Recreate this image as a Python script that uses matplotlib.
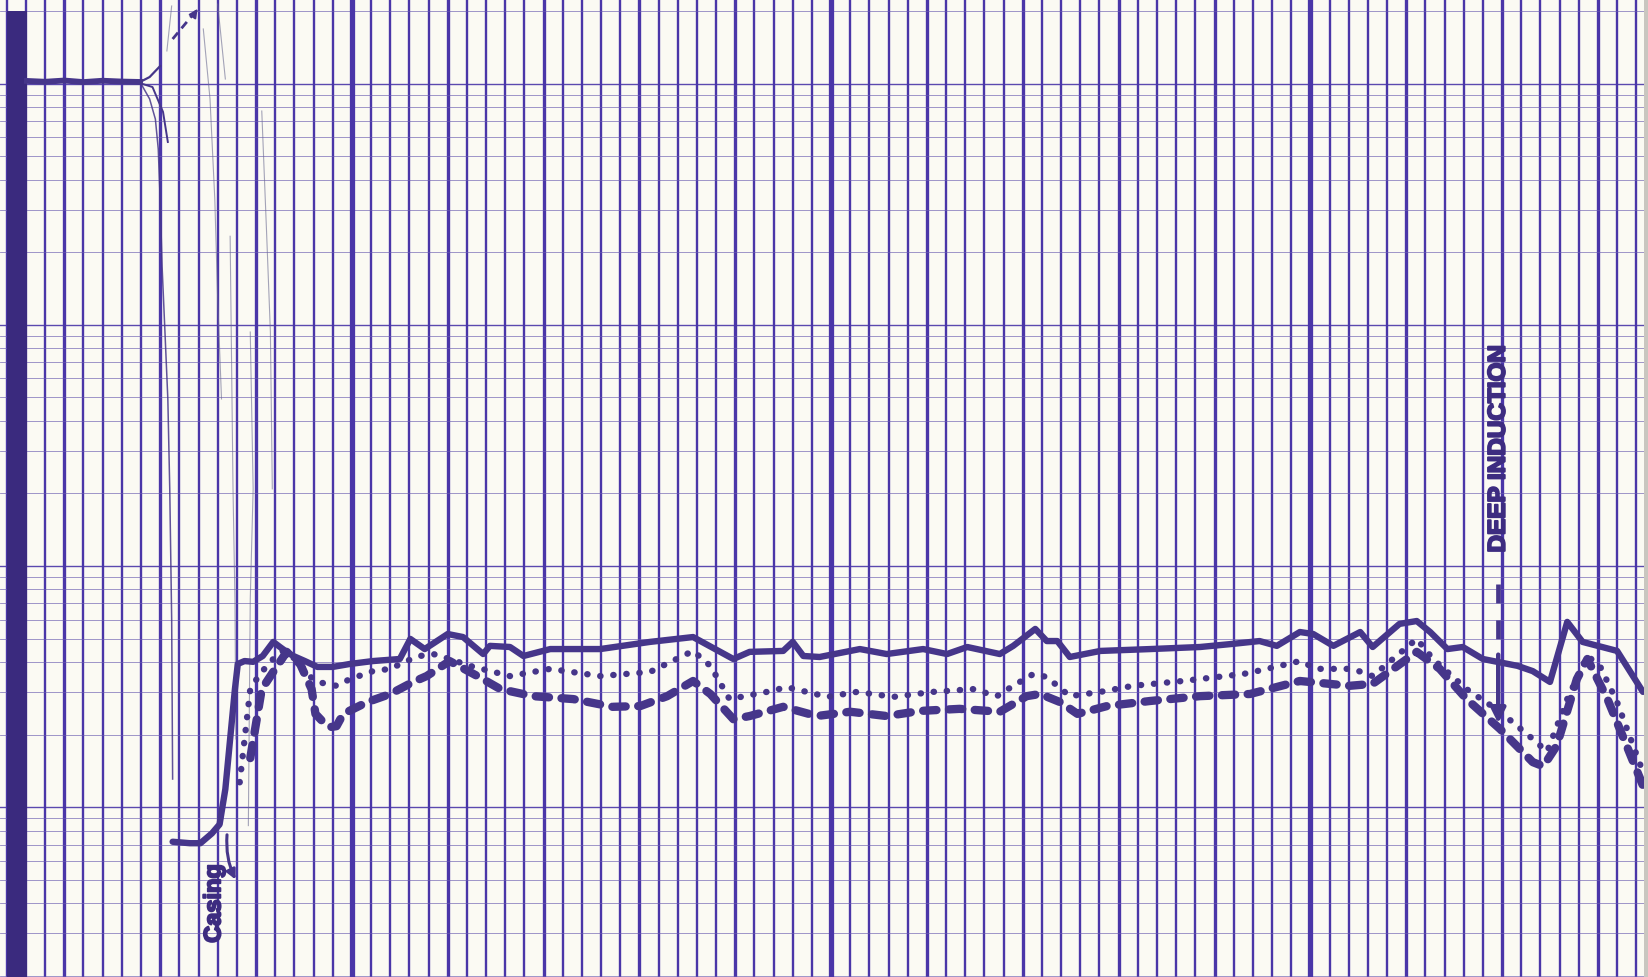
import matplotlib
matplotlib.use("Agg")
import matplotlib.pyplot as plt
import matplotlib.patheffects as pe
from matplotlib.ticker import MultipleLocator, LogLocator, NullFormatter
import numpy as np

# colours of the scanned log paper
paper = "#fbfaf3"
grid_col = "#4a36a8"
ink = "#46368a"

solid_depth = [31.3, 33.1, 34.2, 35.4, 36.2, 36.8, 37.3, 37.8, 38.1, 38.8, 39.7, 40.7, 41.8, 42.5,
               43.2, 43.9, 45.1, 46.4, 48.0, 49.8, 52.2, 55.0, 56.1, 57.6, 60.0, 61.6, 63.7, 64.4,
               66.5, 67.9, 70.7, 75.9, 81.1, 85.6, 89.8, 91.5, 95.0, 96.0, 97.1, 98.8, 103.0, 105.8,
               109.6, 112.1, 114.2, 117.6, 119.0, 121.3, 122.5, 123.6, 124.9, 128.1, 133.3, 138.5,
               141.9, 144.7, 146.5, 148.9, 150.3, 152.4, 155.2, 156.5, 159.3, 161.1, 162.5, 164.3,
               165.9, 168.0, 171.6, 173.2, 175.0, 176.8, 178.4, 182.0, 184.7]
solid_res = [0.72, 0.71, 0.71, 0.78, 0.85, 1.19, 1.92, 3.09, 3.93, 4.04, 4.01, 4.24, 4.85, 4.62,
             4.41, 4.24, 4.04, 3.82, 3.82, 3.93, 4.04, 4.12, 4.99, 4.53, 5.23, 5.08, 4.32, 4.67,
             4.62, 4.24, 4.53, 4.53, 4.85, 5.08, 4.12, 4.41, 4.45, 4.85, 4.24, 4.20, 4.53, 4.32,
             4.53, 4.32, 4.62, 4.32, 4.67, 5.49, 4.89, 4.89, 4.20, 4.45, 4.53, 4.62,
             4.76, 4.89, 4.67, 5.33, 5.23, 4.67, 5.33, 4.62, 5.76, 5.92, 5.33, 4.53,
             4.62, 4.12, 3.86, 3.67, 3.31, 5.87, 4.85, 4.45, 3.01]

dotted_depth = [38.3, 39.4, 40.4, 41.8, 42.8, 44.1, 45.7, 46.4, 48.4, 49.8, 52.2, 54.0, 55.7, 57.1,
                58.5, 60.2, 62.3, 66.5, 70.7, 75.9, 81.1, 85.6, 87.4, 89.4, 93.3, 95.4, 99.6, 102.7,
                106.5, 110.6, 114.8, 117.3, 119.0, 121.1, 122.5, 124.9, 128.1, 131.5, 136.7, 143.0,
                145.5, 148.9, 150.7, 154.4, 156.5, 161.1, 162.8, 166.3, 169.8, 173.2, 174.7, 176.8,
                178.9, 180.2, 182.0, 184.7]
dotted_res = [1.27, 3.09, 3.57, 4.12, 4.45, 4.12, 3.47, 3.31, 3.19, 3.40, 3.67, 3.75, 4.04, 4.24,
              4.32, 4.12, 3.86, 3.50, 3.75, 3.50, 3.64, 4.45, 3.86, 2.81, 3.01, 3.15, 2.87, 3.01,
              2.87, 3.01, 3.09, 2.89, 3.19, 3.57, 3.47, 2.89, 3.01, 3.19, 3.34, 3.57,
              3.75, 4.04, 3.75, 3.75, 3.50, 4.99, 4.12, 3.09, 2.49, 1.92, 1.70, 2.81,
              4.24, 3.86, 2.73, 1.40]

dashed_depth = [39.4, 40.6, 42.0, 43.2, 44.6, 45.8, 46.2, 46.9, 47.7, 48.4, 49.1, 51.6, 54.0, 56.4,
                57.8, 60.2, 63.1, 65.5, 68.9, 73.1, 77.2, 80.1, 82.9, 85.6, 87.4, 89.8, 91.5, 95.0,
                98.5, 102.0, 105.8, 109.3, 113.4, 117.6, 120.4, 121.8, 123.9, 125.7, 128.8, 133.3,
                138.5, 143.7, 148.9, 154.1, 156.5, 161.1, 163.5, 166.3, 169.8, 173.2, 174.3, 175.7,
                177.8, 178.9, 181.0, 183.0, 184.7]
dashed_res = [1.60, 3.09, 3.75, 4.41, 3.93, 3.09, 2.44, 2.28, 2.15, 2.17, 2.44, 2.73, 2.95, 3.31,
              3.50, 4.04, 3.50, 3.09, 2.89, 2.81, 2.61, 2.63, 2.89, 3.34, 2.95, 2.32, 2.39, 2.61,
              2.39, 2.49, 2.39, 2.51, 2.56, 2.49, 2.89, 2.95, 2.73, 2.44, 2.63, 2.76,
              2.89, 2.95, 3.34, 3.19, 3.25, 4.41, 3.75, 2.81, 2.11, 1.54, 1.48, 1.80,
              3.40, 4.12, 2.81, 1.80, 1.23]

# casing section at top: flat high reading, then thin pen swings down
flat_depth = [16.1, 18.0, 20.0, 22.0, 24.0, 26.0, 27.9]
flat_res = [1026, 1018, 1030, 1015, 1028, 1020, 1016]
swing_up_depth = [27.9, 28.9, 30.0]
swing_up_res = [1016, 1065, 1183]
swing_a_depth = [27.9, 28.9, 29.5, 29.8, 30.0, 30.2, 30.5, 30.8, 31.0, 31.2, 31.3]
swing_a_res = [1016, 864, 713, 536, 332, 175, 93.4, 49.3, 20.9, 6.04, 1.31]
swing_b_depth = [28.2, 29.2, 30.3, 30.8]
swing_b_res = [996, 968, 763, 573]
thin_traces = [
    ([34.5, 35.2, 35.7, 36.0, 36.4], [1685, 864, 332, 128, 49.3]),
    ([37.3, 37.6, 37.8, 37.9], [233, 20.9, 7.31, 1.92]),
    ([36.0, 36.8], [2138, 1045]),
    ([40.6, 41.1, 41.5, 41.7], [770, 243, 93.4, 20.9]),
    ([39.4, 39.7, 39.4, 39.2], [93.4, 20.9, 7.31, 0.84]),
    ([30.7, 31.2], [1366, 2098]),
]
top_arrow_depth = [31.3, 33.9]
top_arrow_res = [1531, 2038]
casing_arrow_depth = [37.0, 38.0]
casing_arrow_res = [0.79, 0.49]

# legend key for the deep induction curve
key_depth = 169.6
key_dash_res = [8.43, 4.41]
key_arrow_res = [4.41, 2.17]
key_label_res = 30.6
casing_label = (35.6, 0.40)

heavy_depths = [50, 100, 150]
track_edge = (14.0, 16.1)
track_top = 2000

fig = plt.figure(figsize=(16.49, 9.78), dpi=100, facecolor=paper)
ax = fig.add_axes([0, 0, 1, 1], facecolor=paper)
ax.set_yscale("log")
ax.set_xlim(13.29, 185.33)
ax.set_ylim(0.198, 2243)

# log paper grid
ax.xaxis.set_major_locator(MultipleLocator(10))
ax.xaxis.set_minor_locator(MultipleLocator(2))
ax.yaxis.set_major_locator(LogLocator(base=10, numticks=10))
ax.yaxis.set_minor_locator(LogLocator(base=10, subs=np.arange(2, 10), numticks=20))
ax.yaxis.set_minor_formatter(NullFormatter())
ax.grid(which="minor", axis="x", color=grid_col, lw=1.7, zorder=1)
ax.grid(which="major", axis="x", color=grid_col, lw=2.4, zorder=1)
ax.grid(which="minor", axis="y", color="#6a5cb0", lw=0.6, alpha=0.75, zorder=1)
ax.grid(which="major", axis="y", color=grid_col, lw=1.0, alpha=0.9, zorder=1)
ax.set_axisbelow(True)
for d in heavy_depths:
    ax.axvline(d, color=grid_col, lw=3.8, zorder=1)
ax.tick_params(which="both", length=0, labelbottom=False, labelleft=False)
for s in ax.spines.values():
    s.set_visible(False)

ax.fill_betweenx([0.198, track_top], track_edge[0], track_edge[1], color="#3a2a7e", lw=0, zorder=2)
ax.axvspan(184.8, 185.33, color="#c9c6c0", lw=0, zorder=5)

# curves
ax.plot(flat_depth, flat_res, color=ink, lw=4.2, zorder=4)
ax.plot(swing_up_depth, swing_up_res, color=ink, lw=1.6, zorder=4)
ax.plot(swing_a_depth, swing_a_res, color=ink, lw=1.1, alpha=0.85, zorder=4)
ax.plot(swing_b_depth, swing_b_res, color=ink, lw=1.4, zorder=4)
for dd, rr in thin_traces:
    ax.plot(dd, rr, color="#6a6a90", lw=0.8, alpha=0.6, zorder=3)
ax.plot(top_arrow_depth, top_arrow_res, color=ink, lw=2, dashes=(3, 2), zorder=4)
ax.annotate("", xy=(top_arrow_depth[1], top_arrow_res[1]),
            xytext=(top_arrow_depth[1] - 0.3, top_arrow_res[1] * 0.96),
            arrowprops=dict(arrowstyle="-|>", color=ink, lw=1.5, mutation_scale=12))

ax.plot(solid_depth, solid_res, color=ink, lw=4.6, solid_joinstyle="round",
        solid_capstyle="round", zorder=4)
ax.plot(dotted_depth, dotted_res, color=ink, lw=4.6, dashes=(0.05, 2.0),
        dash_capstyle="round", zorder=4)
ax.plot(dashed_depth, dashed_res, color=ink, lw=6.0, dashes=(1.6, 1.5),
        dash_capstyle="round", zorder=4)

ax.annotate("", xy=(casing_arrow_depth[1], casing_arrow_res[1]),
            xytext=(casing_arrow_depth[0], casing_arrow_res[0]),
            arrowprops=dict(arrowstyle="-|>", color=ink, lw=2.2, mutation_scale=14,
                            connectionstyle="arc3,rad=0.15"), zorder=4)

# deep induction key
ax.plot([key_depth, key_depth], key_dash_res, color=ink, lw=3.4, dashes=(4, 3.6), zorder=4)
ax.annotate("", xy=(key_depth, key_arrow_res[1]), xytext=(key_depth, key_arrow_res[0]),
            arrowprops=dict(arrowstyle="-|>", color=ink, lw=3.2, mutation_scale=22), zorder=4)

bold_fx = [pe.withStroke(linewidth=1.4, foreground="#3d2c80")]
ax.text(key_depth, key_label_res, "DEEP INDUCTION", rotation=90, ha="center", va="center",
        fontsize=17.5, fontweight="bold", family=["Liberation Sans Narrow", "Liberation Sans", "DejaVu Sans"],
        color="#3d2c80", zorder=6, path_effects=bold_fx)
ax.text(casing_label[0], casing_label[1], "Casing", rotation=90, ha="center", va="center",
        fontsize=17, fontweight="bold", family=["Liberation Sans", "DejaVu Sans"],
        color="#3d2c80", zorder=6, path_effects=bold_fx)

fig.savefig("out.png", dpi=100, facecolor=paper)
